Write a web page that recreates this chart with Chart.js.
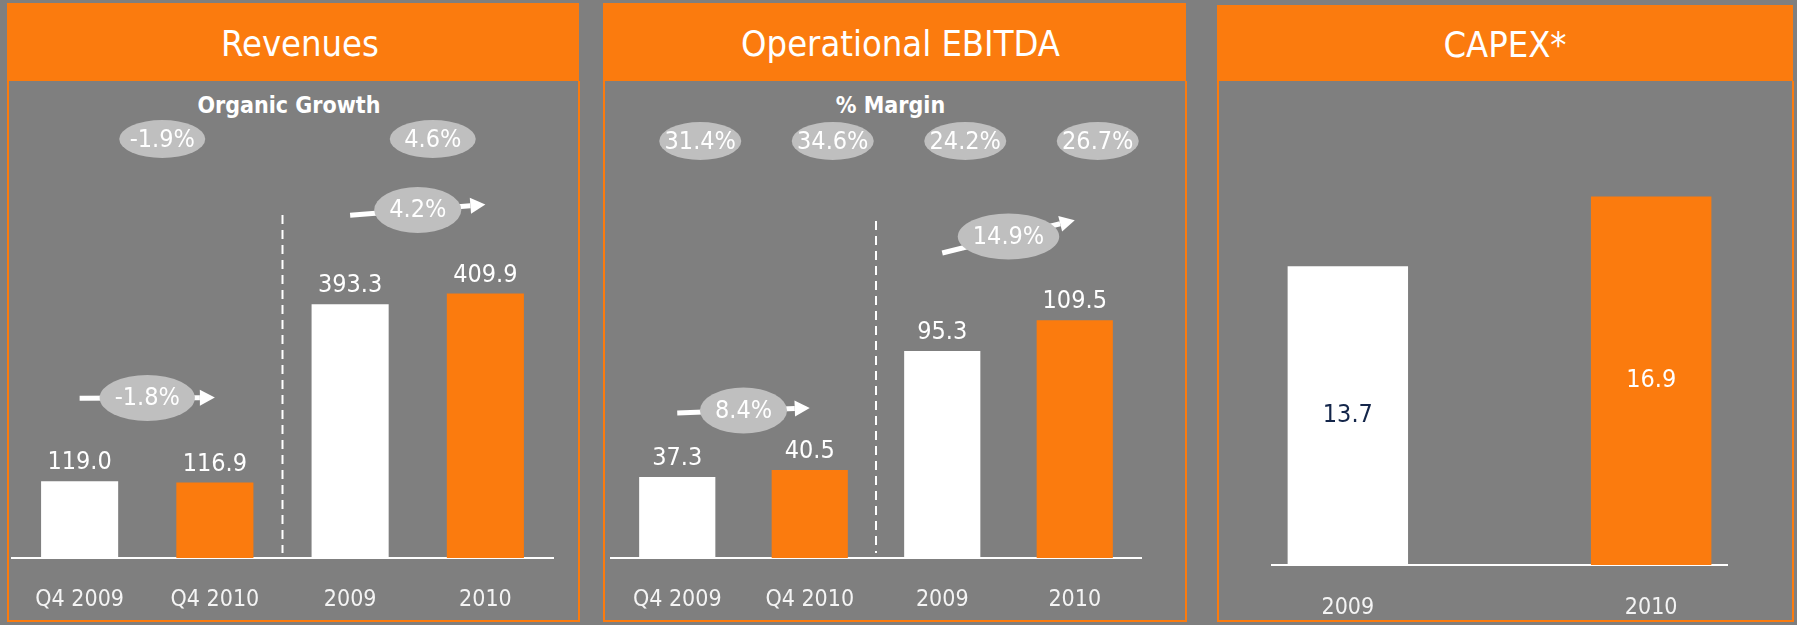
<!DOCTYPE html>
<html>
<head>
<meta charset="utf-8">
<script src="https://cdn.jsdelivr.net/npm/chart.js@4.4.0/dist/chart.umd.min.js"></script>
<style>
  html, body { margin: 0; padding: 0; }
  body {
    width: 1797px; height: 625px; background: #7f7f7f; position: relative; overflow: hidden;
    font-family: "Liberation Sans Narrow", "DejaVu Sans Condensed", "Arial Narrow", sans-serif; color: #fff;
  }
  .head { position: absolute; top: 3px; height: 78px; background: #fb7b0e; text-align: center; font-size: 36px; line-height: 82px; box-sizing: border-box; }
  .frame { position: absolute; top: 81px; height: 541px; border: 2px solid #fb7b0e; border-top: none; box-sizing: border-box; }
  .sub { position: absolute; top: 89px; font-size: 23px; line-height: 32px; font-weight: bold; text-align: center; }
  canvas { position: absolute; left: 0; top: 0; }
</style>
</head>
<body>
<div class="head" style="left:7px;width:572px;padding-left:14px;">Revenues</div>
<div class="frame" style="left:7px;width:573px;"></div>
<div class="sub" style="left:7px;width:564px;">Organic Growth</div>

<div class="head" style="left:603px;width:583px;padding-left:12px;">Operational EBITDA</div>
<div class="frame" style="left:603px;width:584px;"></div>
<div class="sub" style="left:603px;width:575px;">% Margin</div>

<div class="head" style="left:1217px;width:576px;top:5px;height:76px;line-height:80px;">CAPEX*</div>
<div class="frame" style="left:1217px;width:577px;"></div>

<canvas id="revChart" width="1797" height="625"></canvas>
<canvas id="ebitdaChart" width="1797" height="625"></canvas>
<canvas id="capexChart" width="1797" height="625"></canvas>

<script>
// Revenues
const revLabels = ["Q4 2009", "Q4 2010", "2009", "2010"];
const revValues = [119.0, 116.9, 393.3, 409.9];
const organicGrowth = ["-1.9%", "4.6%"];
const revGrowth = ["-1.8%", "4.2%"];

// Operational EBITDA
const ebitdaLabels = ["Q4 2009", "Q4 2010", "2009", "2010"];
const ebitdaValues = [37.3, 40.5, 95.3, 109.5];
const ebitdaMargin = ["31.4%", "34.6%", "24.2%", "26.7%"];
const ebitdaGrowth = ["8.4%", "14.9%"];

// CAPEX
const capexLabels = ["2009", "2010"];
const capexValues = [13.7, 16.9];

const WHITE = "#ffffff";
const ORANGE = "#fb7b0e";
const FONT = "'Liberation Sans Narrow', 'DejaVu Sans Condensed', 'Arial Narrow', sans-serif";

Chart.defaults.font.family = FONT;
Chart.defaults.color = "#f4f4f4";

function drawArrow(ctx, x1, y1, x2, y2) {
  const ang = Math.atan2(y2 - y1, x2 - x1);
  const hl = 15, hw = 8;
  const bx = x2 - hl * Math.cos(ang), by = y2 - hl * Math.sin(ang);
  ctx.strokeStyle = WHITE;
  ctx.lineWidth = 5;
  ctx.beginPath();
  ctx.moveTo(x1, y1);
  ctx.lineTo(bx, by);
  ctx.stroke();
  ctx.fillStyle = WHITE;
  ctx.beginPath();
  ctx.moveTo(x2, y2);
  ctx.lineTo(bx + hw * Math.sin(ang), by - hw * Math.cos(ang));
  ctx.lineTo(bx - hw * Math.sin(ang), by + hw * Math.cos(ang));
  ctx.closePath();
  ctx.fill();
}

function pill(ctx, x, y, text, rx, ry) {
  ctx.font = "25px " + FONT;
  const w = rx || ctx.measureText(text).width / 2 + 15;
  ctx.fillStyle = "#bfbfbf";
  ctx.beginPath();
  ctx.ellipse(x, y, w, ry, 0, 0, Math.PI * 2);
  ctx.fill();
  ctx.fillStyle = WHITE;
  ctx.textAlign = "center";
  ctx.textBaseline = "middle";
  ctx.fillText(text, x, y + 1);
}

// value labels, divider, growth arrows and % pills
const deckPlugin = {
  id: "deck",
  afterDatasetsDraw(chart, args, opts) {
    const ctx = chart.ctx;
    const bars = chart.getDatasetMeta(0).data;
    const raw = chart.data.datasets[0].data;
    ctx.save();
    ctx.textAlign = "center";

    bars.forEach((bar, i) => {
      const v = typeof raw[i] === "object" ? raw[i].y : raw[i];
      ctx.font = "25px " + FONT;
      if (opts.inside) {
        ctx.fillStyle = opts.insideColors[i];
        ctx.textBaseline = "middle";
        ctx.fillText(v.toFixed(1), bar.x, (bar.y + bar.base) / 2);
      } else {
        ctx.fillStyle = WHITE;
        ctx.textBaseline = "alphabetic";
        ctx.fillText(v.toFixed(1), bar.x, bar.y - 12);
      }
    });

    if (opts.divider) {
      const x = (bars[1].x + bars[2].x) / 2;
      ctx.strokeStyle = WHITE;
      ctx.lineWidth = 2;
      ctx.setLineDash([9, 6]);
      ctx.beginPath();
      ctx.moveTo(x, opts.divider);
      ctx.lineTo(x, chart.chartArea.bottom - 5);
      ctx.stroke();
      ctx.setLineDash([]);
    }

    (opts.arrows || []).forEach(a => {
      const b1 = bars[a.from], b2 = bars[a.from + 1];
      const y1 = b1.y - a.lift[0], y2 = b2.y - a.lift[1];
      drawArrow(ctx, b1.x, y1, b2.x, y2);
      pill(ctx, (b1.x + b2.x) / 2, (y1 + y2) / 2, a.text, 0, 23);
    });

    if (opts.pills) {
      const p = opts.pills;
      p.texts.forEach((t, i) => {
        const x = p.pairs ? (bars[2 * i].x + bars[2 * i + 1].x) / 2 : bars[i].x;
        pill(ctx, x + p.dx, p.y, t, p.rx, 19);
      });
    }
    ctx.restore();
  }
};

function xAxis(padding) {
  return {
    grid: { display: false, drawTicks: false },
    border: { display: true, color: WHITE, width: 2 },
    ticks: { font: { size: 23 }, padding: padding, autoSkip: false, maxRotation: 0 },
    afterFit(scale) { scale.height = 60; }
  };
}

const baseOptions = {
  responsive: false,
  animation: false,
  plugins: { legend: { display: false }, tooltip: { enabled: false } }
};

new Chart(document.getElementById("revChart"), {
  type: "bar",
  data: {
    labels: revLabels,
    datasets: [{
      data: revValues,
      backgroundColor: [WHITE, ORANGE, WHITE, ORANGE],
      categoryPercentage: 1,
      barPercentage: 0.57
    }]
  },
  options: {
    ...baseOptions,
    layout: { padding: { left: 12, right: 1244, top: 171, bottom: 7 } },
    scales: {
      x: xAxis(28),
      y: { display: false, min: 0, max: 600 }
    },
    plugins: {
      ...baseOptions.plugins,
      deck: {
        divider: 215,
        arrows: [
          { from: 0, lift: [83, 85], text: revGrowth[0] },
          { from: 2, lift: [89, 89], text: revGrowth[1] }
        ],
        pills: { texts: organicGrowth, pairs: true, dx: 15, y: 139, rx: 43 }
      }
    }
  },
  plugins: [deckPlugin]
});

new Chart(document.getElementById("ebitdaChart"), {
  type: "bar",
  data: {
    labels: ebitdaLabels,
    datasets: [{
      data: ebitdaValues,
      backgroundColor: [WHITE, ORANGE, WHITE, ORANGE],
      categoryPercentage: 1,
      barPercentage: 0.575
    }]
  },
  options: {
    ...baseOptions,
    layout: { padding: { left: 611, right: 656, top: 167, bottom: 7 } },
    scales: {
      x: xAxis(28),
      y: { display: false, min: 0, max: 180 }
    },
    plugins: {
      ...baseOptions.plugins,
      deck: {
        divider: 221,
        arrows: [
          { from: 0, lift: [64, 62], text: ebitdaGrowth[0] },
          { from: 2, lift: [98, 100], text: ebitdaGrowth[1] }
        ],
        pills: { texts: ebitdaMargin, pairs: false, dx: 23, y: 141, rx: 41 }
      }
    }
  },
  plugins: [deckPlugin]
});

new Chart(document.getElementById("capexChart"), {
  type: "bar",
  data: {
    datasets: [{
      data: capexValues.map((v, i) => ({ x: Number(capexLabels[i]), y: v })),
      backgroundColor: [WHITE, ORANGE],
      categoryPercentage: 1,
      barPercentage: 0.397
    }]
  },
  options: {
    ...baseOptions,
    layout: { padding: { left: 1272, right: 70, top: 129, bottom: 0 } },
    scales: {
      x: {
        type: "linear",
        offset: false,
        min: 2008.75,
        max: 2010.25,
        grid: { display: false, drawTicks: false },
        border: { display: true, color: WHITE, width: 2 },
        ticks: {
          stepSize: 1,
          includeBounds: false,
          font: { size: 23 },
          padding: 29,
          callback: v => String(v)
        },
        afterFit(scale) { scale.height = 60; }
      },
      y: { display: false, min: 0, max: 20 }
    },
    plugins: {
      ...baseOptions.plugins,
      deck: { inside: true, insideColors: ["#14264a", WHITE] }
    }
  },
  plugins: [deckPlugin]
});
</script>
</body>
</html>
